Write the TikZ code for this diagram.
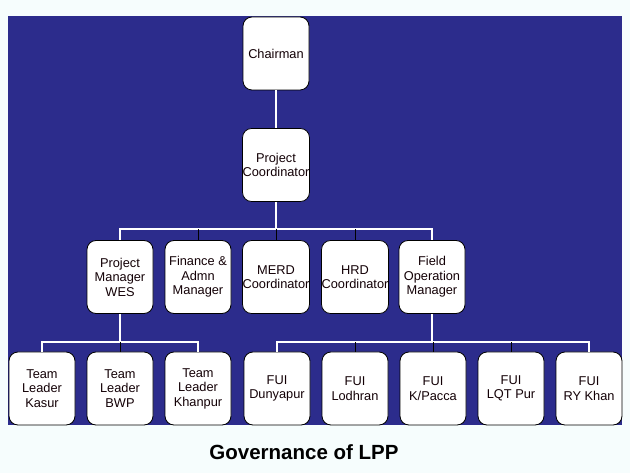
\documentclass[tikz,border=0pt]{standalone}
\usepackage{fontspec}
\setmainfont{Liberation Sans}
\definecolor{bgblue}{RGB}{44,44,140}
\definecolor{paper}{RGB}{246,253,253}
\begin{document}
\begin{tikzpicture}[x=1pt,y=-1pt,
  box/.style={draw=black,line width=0.8pt,fill=white,rounded corners=9pt,
    minimum width=66pt,minimum height=73pt,inner sep=0pt,align=center,
    font=\fontsize{12.8}{14.5}\selectfont,text=black!90!purple},
  bus/.style={draw=white,line width=1.8pt},
  drop/.style={draw=black,line width=1pt}]
\useasboundingbox (0,0) rectangle (630,473);
\fill[paper] (0,0) rectangle (630,473);
\fill[bgblue] (8,16) rectangle (622,425);
% nodes
\node[box] (ch) at (276,53.5) {Chairman};
\node[box] (pc) at (276,165) {Project\\Coordinator};
\node[box] (pm) at (120,277) {Project\\Manager\\WES};
\node[box] (fa) at (198,277) {Finance \&\\Admn\\Manager};
\node[box] (me) at (276,277) {MERD\\Coordinator};
\node[box] (hr) at (355,277) {HRD\\Coordinator};
\node[box] (fo) at (432,277) {Field\\Operation\\Manager};
\node[box] (t1) at (42,388.5) {Team\\Leader\\Kasur};
\node[box] (t2) at (120,388.5) {Team\\Leader\\BWP};
\node[box] (t3) at (198,388.5) {Team\\Leader\\Khanpur};
\node[box] (f1) at (277,388.5) {FUI\\Dunyapur};
\node[box] (f2) at (355,388.5) {FUI\\Lodhran};
\node[box] (f3) at (433,388.5) {FUI\\K/Pacca};
\node[box] (f4) at (511,388.5) {FUI\\LQT Pur};
\node[box] (f5) at (589,388.5) {FUI\\RY Khan};
% bus coordinates
\coordinate (b1) at (276,229);
\coordinate (b2l) at (120,342);
\coordinate (b2r) at (432,342);
% connectors
\draw[bus] (ch.south) -- (pc.north);
\draw[bus] (pc.south) -- (b1);
\draw[bus] (pm.north) |- (b1) -| (fo.north);
\draw[drop] (fa.north) -- (fa.north |- b1);
\draw[drop] (me.north) -- (me.north |- b1);
\draw[drop] (hr.north) -- (hr.north |- b1);
\draw[bus] (pm.south) -- (b2l);
\draw[bus] (t1.north) |- (b2l) -| (t3.north);
\draw[drop] (t2.north) -- (t2.north |- b2l);
\draw[bus] (fo.south) -- (b2r);
\draw[bus] (f1.north) |- (b2r) -| (f5.north);
\draw[drop] (f2.north) -- (f2.north |- b2r);
\draw[drop] (f3.north) -- (f3.north |- b2r);
\draw[drop] (f4.north) -- (f4.north |- b2r);
% title
\node[font=\bfseries\fontsize{20.5}{24}\selectfont] (title) at (304,452) {Governance of LPP};
\end{tikzpicture}
\end{document}
